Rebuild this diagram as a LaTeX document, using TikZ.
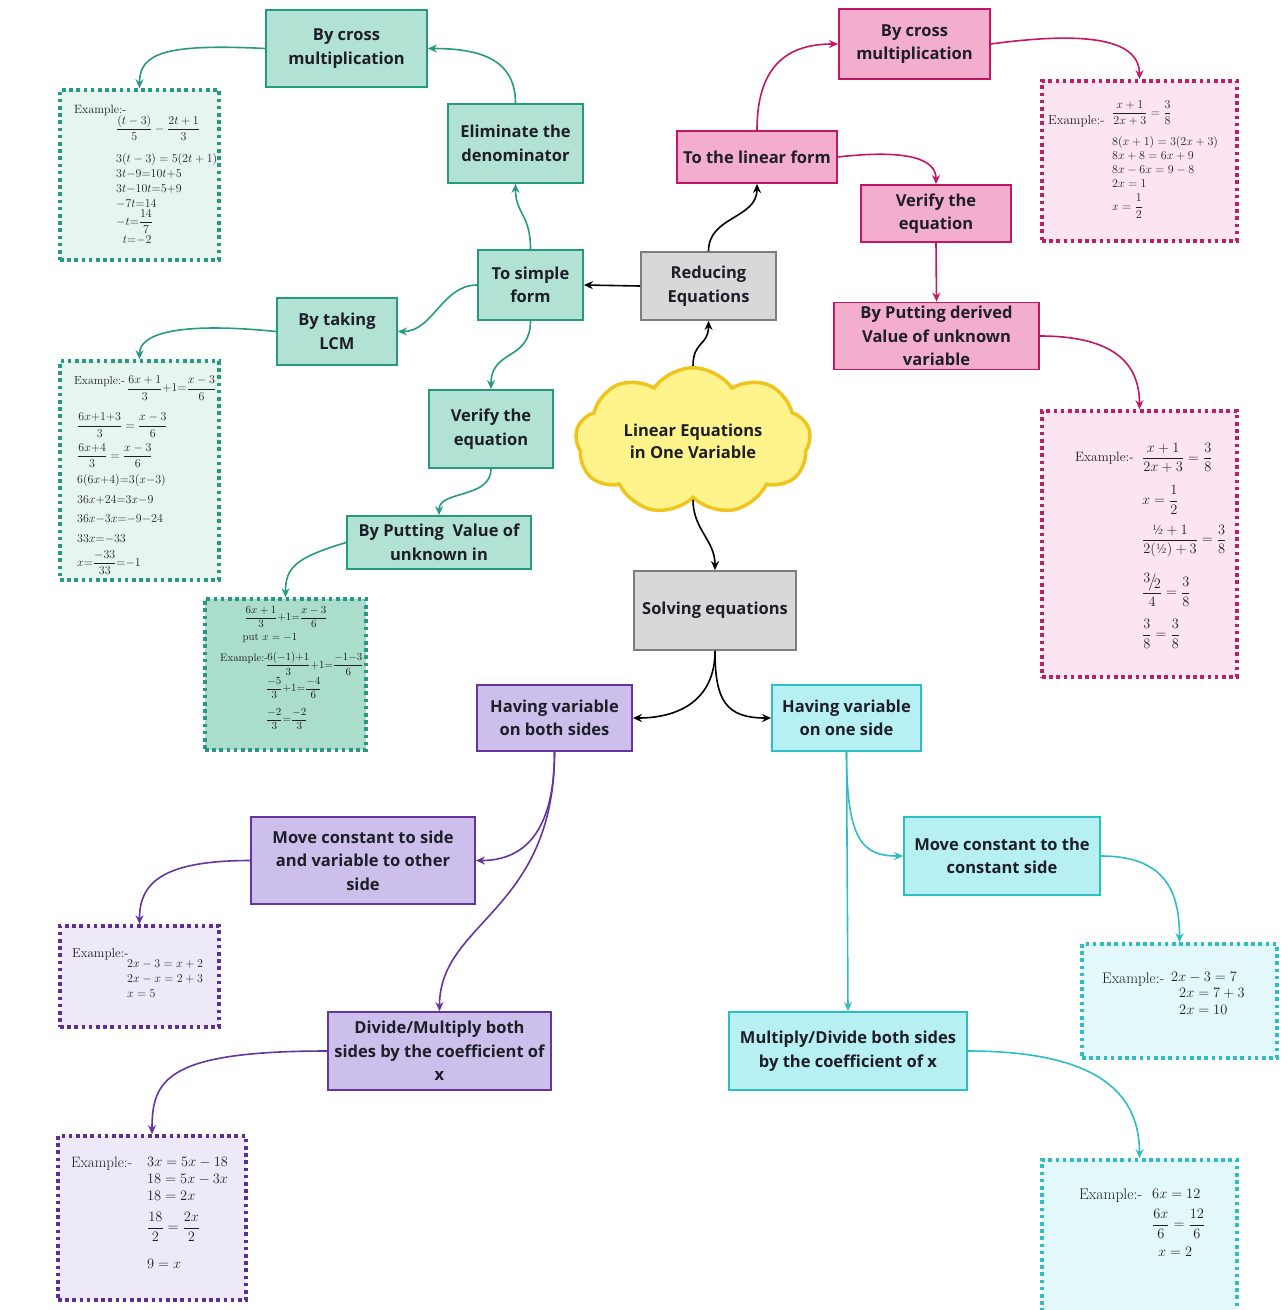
\documentclass[tikz,border=0pt]{standalone}
\usepackage{amsmath}
\usepackage{fontspec}
\newfontfamily\boxfont{Open Sans}
\usepackage{tikz}
\usetikzlibrary{arrows.meta,shapes.symbols}

\begin{document}
\begin{tikzpicture}[x=1pt,y=1pt,yscale=-1,xscale=1,
  box/.style={rectangle, line width=1.8pt, inner sep=0pt, align=center,
    text={rgb,255:red,30;green,30;blue,40}, font=\boxfont\bfseries\fontsize{16.5}{23.5}\selectfont},
  tealbox/.style={box, draw={rgb,255:red,38;green,154;blue,128}, fill={rgb,255:red,178;green,226;blue,212}},
  pinkbox/.style={box, draw={rgb,255:red,196;green,22;blue,98}, fill={rgb,255:red,243;green,173;blue,205}},
  purplebox/.style={box, draw={rgb,255:red,102;green,52;blue,160}, fill={rgb,255:red,205;green,191;blue,235}},
  cyanbox/.style={box, draw={rgb,255:red,44;green,190;blue,196}, fill={rgb,255:red,182;green,240;blue,243}},
  graybox/.style={box, draw={rgb,255:red,125;green,125;blue,125}, fill={rgb,255:red,216;green,216;blue,216}},
  exbox/.style={rectangle, line width=3.6pt, dash pattern=on 3.6pt off 3.6pt, inner sep=0pt},
  tealex/.style={exbox, draw={rgb,255:red,38;green,154;blue,128}, fill={rgb,255:red,230;green,245;blue,240}},
  pinkex/.style={exbox, draw={rgb,255:red,190;green,30;blue,100}, fill={rgb,255:red,252;green,229;blue,240}},
  purpleex/.style={exbox, draw={rgb,255:red,95;green,45;blue,150}, fill={rgb,255:red,238;green,233;blue,248}},
  cyanex/.style={exbox, draw={rgb,255:red,44;green,190;blue,196}, fill={rgb,255:red,226;green,248;blue,250}},
  extext/.style={inner sep=0pt, align=left, text={rgb,255:red,30;green,30;blue,35}},
  link/.style={line width=1.6pt, -{Stealth[length=9pt,width=8pt]}},
  blacklink/.style={link, draw=black},
  teallink/.style={link, draw={rgb,255:red,38;green,154;blue,128}},
  pinklink/.style={link, draw={rgb,255:red,196;green,22;blue,98}},
  purplelink/.style={link, draw={rgb,255:red,102;green,52;blue,160}},
  cyanlink/.style={link, draw={rgb,255:red,44;green,190;blue,196}}
]
\useasboundingbox (0,0) rectangle (1288,1310);

%Shape: Cloud
\node[cloud, cloud puffs=9, cloud puff arc=110, aspect=1.65, line width=3.5pt,
  draw={rgb,255:red,240;green,196;blue,30}, fill={rgb,255:red,255;green,244;blue,140},
  minimum width=235pt, minimum height=142pt, inner sep=0pt, align=center,
  text={rgb,255:red,30;green,30;blue,40}, font=\boxfont\bfseries\fontsize{16.5}{22}\selectfont]
  (cloud) at (693,441) {Linear Equations\\in One Variable};

%Shape: Rectangle (grey)
\node[graybox, minimum width=135pt, minimum height=68pt] (reduce) at (708.5,286) {Reducing\\Equations};
\node[graybox, minimum width=162pt, minimum height=79pt] (solving) at (715,610.5) {Solving equations};

%Shape: Rectangle (teal)
\node[tealbox, minimum width=161pt, minimum height=77pt] (crossL) at (346.5,48.5) {By cross\\multiplication};
\node[tealbox, minimum width=135pt, minimum height=79pt] (elim) at (515.5,143.5) {Eliminate the\\denominator};
\node[tealbox, minimum width=105pt, minimum height=70pt] (simple) at (530.5,285) {To simple\\form};
\node[tealbox, minimum width=120pt, minimum height=67pt] (lcm) at (337,331.5) {By taking\\LCM};
\node[tealbox, minimum width=124pt, minimum height=78pt] (verifyL) at (491,429) {Verify the\\equation};
\node[tealbox, minimum width=184pt, minimum height=53pt] (putL) at (439,542.5) {By Putting\ \ Value of\\unknown in};

%Shape: Rectangle (pink)
\node[pinkbox, minimum width=151pt, minimum height=70pt] (crossR) at (914.5,44) {By cross\\multiplication};
\node[pinkbox, minimum width=160pt, minimum height=52pt] (linear) at (757,157) {To the linear form};
\node[pinkbox, minimum width=150pt, minimum height=57pt] (verifyR) at (936,213.5) {Verify the\\equation};
\node[pinkbox, minimum width=205pt, minimum height=67pt] (putR) at (936.5,336) {By Putting derived\\Value of unknown\\variable};

%Shape: Rectangle (purple)
\node[purplebox, minimum width=155pt, minimum height=66pt] (bothL) at (554.5,718) {Having variable\\on both sides};
\node[purplebox, minimum width=224pt, minimum height=87pt] (moveL) at (363,860.5) {Move constant to side\\and variable to other\\side};
\node[purplebox, minimum width=223pt, minimum height=78pt] (divL) at (439.5,1051) {Divide/Multiply both\\sides by the coefficient of\\x};

%Shape: Rectangle (cyan)
\node[cyanbox, minimum width=149pt, minimum height=66pt] (oneR) at (846.5,718) {Having variable\\on one side};
\node[cyanbox, minimum width=196pt, minimum height=78pt] (moveR) at (1002,856) {Move constant to the\\constant side};
\node[cyanbox, minimum width=238pt, minimum height=78pt] (divR) at (848,1051) {Multiply/Divide both sides\\by the coefficient of x};

%Shape: Dotted example boxes
\node[tealex, minimum width=159pt, minimum height=170pt] (exA) at (139.5,175) {};
\node[tealex, minimum width=159pt, minimum height=219pt] (exB) at (139.5,470.5) {};
\node[tealex, fill={rgb,255:red,170;green,221;blue,203}, minimum width=161pt, minimum height=151pt] (exC) at (285.5,674.5) {};
\node[pinkex, minimum width=195pt, minimum height=160pt] (exD) at (1139.5,161) {};
\node[pinkex, minimum width=195pt, minimum height=266pt] (exE) at (1139.5,544) {};
\node[purpleex, minimum width=159pt, minimum height=101pt] (exF) at (139.5,976.5) {};
\node[purpleex, minimum width=188pt, minimum height=164pt] (exG) at (152,1218) {};
\node[cyanex, minimum width=195pt, minimum height=114pt] (exH) at (1179.5,1001) {};
\node[cyanex, minimum width=195pt, minimum height=160pt] (exI) at (1139.5,1240) {};

% Text Node
\node[extext, font=\fontsize{12}{15}\selectfont, anchor=base west] (exAlab) at (74,113) {Example:-};
\node[extext, font=\fontsize{12}{15}\selectfont, anchor=north west] (exAeq) at (116,115)
  {$\dfrac{(t-3)}{5}-\dfrac{2t+1}{3}$\\[12pt] $3(t-3)=5(2t+1)$\\ $3t{-}9{=}10t{+}5$\\ $3t{-}10t{=}5{+}9$\\
   $-7t{=}14$\\ $-t{=}\dfrac{14}{7}$\\[1pt] $\;\;t{=}{-}2$};

% Text Node
\node[extext, font=\fontsize{11.7}{19.5}\selectfont, anchor=base west] (exBlab) at (74,384) {Example:-};
\node[extext, font=\fontsize{11.7}{19.5}\selectfont, anchor=west] (exBfrac) at (127,388) {$\dfrac{6x+1}{3}{+}1{=}\dfrac{x-3}{6}$};
\node[extext, font=\fontsize{11.7}{19.5}\selectfont, anchor=north west] (exBeq) at (77,413)
  {$\dfrac{6x{+}1{+}3}{3}=\dfrac{x-3}{6}$\\[5pt] $\dfrac{6x{+}4}{3}=\dfrac{x-3}{6}$\\[5pt] $6(6x{+}4){=}3(x{-}3)$\\
   $36x{+}24{=}3x{-}9$\\ $36x{-}3x{=}{-}9{-}24$\\ $33x{=}{-}33$\\[5pt] $x{=}\dfrac{-33}{33}{=}{-}1$};

% Text Node
\node[extext, font=\fontsize{10.8}{13}\selectfont] (exC1) at (286,617) {$\dfrac{6x+1}{3}{+}1{=}\dfrac{x-3}{6}$};
\node[extext, font=\fontsize{10.8}{13}\selectfont] (exC2) at (270,638) {put $x=-1$};
\node[extext, font=\fontsize{10.8}{13}\selectfont, anchor=base west] (exClab) at (220,661) {Example:-};
\node[extext, font=\fontsize{10.8}{13}\selectfont, anchor=west] (exC3) at (266,664) {$\dfrac{6(-1){+}1}{3}{+}1{=}\dfrac{-1{-}3}{6}$};
\node[extext, font=\fontsize{10.8}{13}\selectfont, anchor=west] (exC4) at (266,688) {$\dfrac{-5}{3}{+}1{=}\dfrac{-4}{6}$};
\node[extext, font=\fontsize{10.8}{13}\selectfont, anchor=west] (exC5) at (266,719) {$\dfrac{-2}{3}{=}\dfrac{-2}{3}$};

% Text Node
\node[extext, font=\fontsize{13}{14}\selectfont, anchor=base west] (exDlab) at (1048,124) {Example:-};
\node[extext, font=\fontsize{13}{14}\selectfont, anchor=west] (exDfrac) at (1112,113) {$\dfrac{x+1}{2x+3}=\dfrac{3}{8}$};
\node[extext, font=\fontsize{13}{14}\selectfont, anchor=north west] (exDeq) at (1112,136)
  {$8(x+1)=3(2x+3)$\\ $8x+8=6x+9$\\ $8x-6x=9-8$\\ $2x=1$\\[6pt] $x=\dfrac{1}{2}$};

% Text Node
\node[extext, font=\fontsize{13.5}{16}\selectfont, anchor=base west] (exElab) at (1075,461) {Example:-};
\node[extext, font=\fontsize{13.5}{16}\selectfont, anchor=west] (exE1) at (1142,458) {$\dfrac{x+1}{2x+3}=\dfrac{3}{8}$};
\node[extext, font=\fontsize{13.5}{16}\selectfont, anchor=west] (exE2) at (1142,500) {$x=\dfrac{1}{2}$};
\node[extext, font=\fontsize{13.5}{16}\selectfont, anchor=west] (exE3) at (1142,541) {$\dfrac{\text{½}+1}{2(\text{½})+3}=\dfrac{3}{8}$};
\node[extext, font=\fontsize{13.5}{16}\selectfont, anchor=west] (exE4) at (1142,590)
  {$\dfrac{\raisebox{.5ex}{$3$}\!\big/\!\raisebox{-.4ex}{$2$}}{4}=\dfrac{3}{8}$};
\node[extext, font=\fontsize{13.5}{16}\selectfont, anchor=west] (exE5) at (1142,634) {$\dfrac{3}{8}=\dfrac{3}{8}$};

% Text Node
\node[extext, font=\fontsize{13}{15}\selectfont, anchor=base west] (exFlab) at (72,957) {Example:-};
\node[extext, font=\fontsize{13}{15}\selectfont, anchor=north west] (exFeq) at (127,960)
  {$2x-3=x+2$\\ $2x-x=2+3$\\ $x=5$};

% Text Node
\node[extext, font=\fontsize{15}{17}\selectfont, anchor=base west] (exGlab) at (71,1167) {Example:-};
\node[extext, font=\fontsize{15}{17}\selectfont, anchor=north west] (exGeq) at (147,1157)
  {$3x=5x-18$\\ $18=5x-3x$\\ $18=2x$\\[11pt] $\dfrac{18}{2}=\dfrac{2x}{2}$\\[17pt] $9=x$};

% Text Node
\node[extext, font=\fontsize{15.3}{16.5}\selectfont, anchor=base west] (exHlab) at (1102,983) {Example:-};
\node[extext, font=\fontsize{15.3}{16.5}\selectfont, anchor=north west] (exHeq) at (1171,972)
  {$2x-3=7$\\ \hspace*{8pt}$2x=7+3$\\ \hspace*{8pt}$2x=10$};

% Text Node
\node[extext, font=\fontsize{15.5}{17}\selectfont, anchor=base west] (exIlab) at (1079,1199) {Example:-};
\node[extext, font=\fontsize{15.5}{17}\selectfont, anchor=north west] (exIeq) at (1152,1189)
  {$6x=12$\\[10pt] $\dfrac{6x}{6}=\dfrac{12}{6}$\\[8pt] \hspace*{6pt}$x=2$};

%Curve Lines (black)
\draw[blacklink] (cloud.north) .. controls +(0,-25) and +(0,25) .. (reduce.south);
\draw[blacklink] (reduce.north) .. controls +(0,-35) and +(0,35) .. (linear.south);
\draw[blacklink] (reduce.west) -- (simple.east);
\draw[blacklink] (cloud.south) .. controls +(0,30) and +(0,-30) .. (solving.north);
\draw[blacklink] (solving.south) .. controls +(0,50) and +(45,0) .. (bothL.east);
\draw[blacklink] (solving.south) .. controls +(0,50) and +(-45,0) .. (oneR.west);

%Curve Lines (pink)
\draw[pinklink] (linear.north) .. controls +(0,-70) and +(-45,0) .. (crossR.west);
\draw[pinklink] (linear.east) .. controls +(70,-8) and +(0,-25) .. (verifyR.north);
\draw[pinklink] (crossR.east) .. controls +(110,-15) and +(0,-35) .. (exD.north);
\draw[pinklink] (verifyR.south) -- (putR.north);
\draw[pinklink] (putR.east) .. controls +(75,0) and +(0,-45) .. (exE.north);

%Curve Lines (teal)
\draw[teallink] (elim.north) .. controls +(0,-45) and +(50,0) .. (crossL.east);
\draw[teallink] (crossL.west) .. controls +(-100,-5) and +(0,-35) .. (exA.north);
\draw[teallink] (simple.north) .. controls +(0,-35) and +(0,30) .. (elim.south);
\draw[teallink] (simple.west) .. controls +(-35,0) and +(35,0) .. (lcm.east);
\draw[teallink] (lcm.west) .. controls +(-100,-10) and +(0,-25) .. (exB.north);
\draw[teallink] (simple.south) .. controls +(0,40) and +(0,-40) .. (verifyL.north);
\draw[teallink] (verifyL.south) .. controls +(0,30) and +(0,-25) .. (putL.north);
\draw[teallink] (putL.west) .. controls +(-50,15) and +(0,-30) .. (exC.north);

%Curve Lines (purple)
\draw[purplelink] (bothL.south) .. controls +(0,90) and +(40,0) .. (moveL.east);
\draw[purplelink] (bothL.south) .. controls +(0,160) and +(0,-90) .. (divL.north);
\draw[purplelink] (moveL.west) .. controls +(-90,0) and +(0,-40) .. (exF.north);
\draw[purplelink] (divL.west) .. controls +(-160,0) and +(0,-55) .. (exG.north);

%Curve Lines (cyan)
\draw[cyanlink] (oneR.south) .. controls +(0,90) and +(-40,0) .. (moveR.west);
\draw[cyanlink] (oneR.south) -- (divR.north);
\draw[cyanlink] (moveR.east) .. controls +(65,0) and +(0,-50) .. (exH.north);
\draw[cyanlink] (divR.east) .. controls +(130,0) and +(0,-65) .. (exI.north);

\end{tikzpicture}
\end{document}
